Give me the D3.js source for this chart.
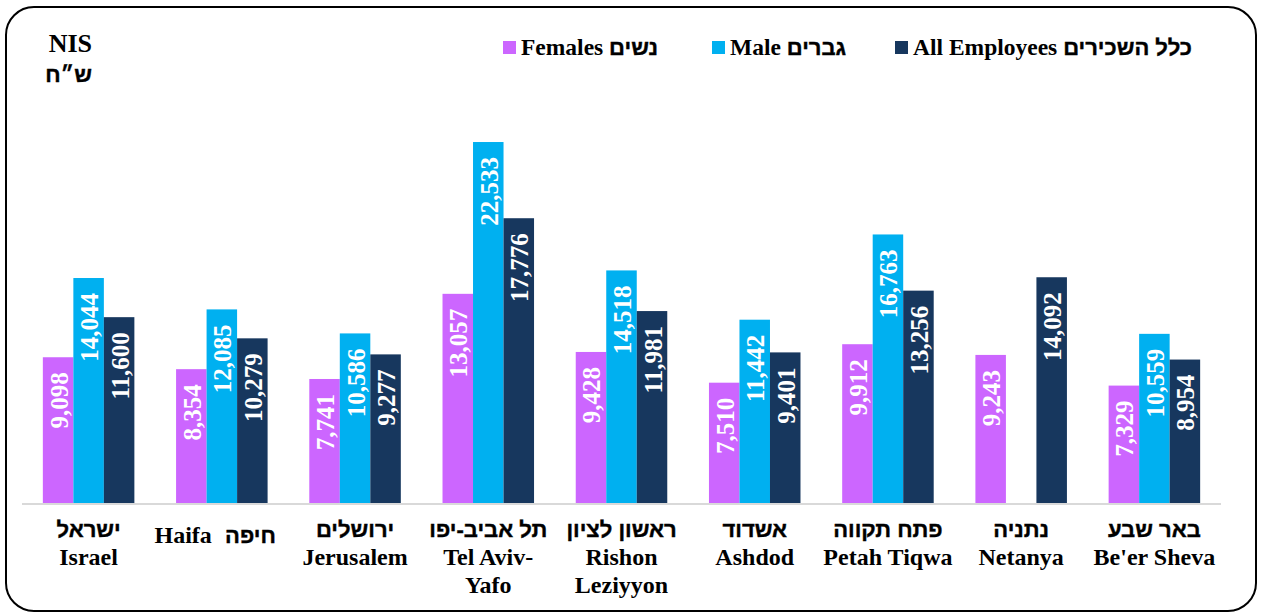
<!DOCTYPE html>
<html>
<head>
<meta charset="utf-8">
<script src="https://cdn.jsdelivr.net/npm/d3@7"></script>
<style>
  body { margin: 0; background: #fff; }
  svg { display: block; }
</style>
</head>
<body>
<div id="chart"></div>
<script>
// Data
var cities_en = [["Israel"], ["Haifa"], ["Jerusalem"], ["Tel Aviv-", "Yafo"], ["Rishon", "Leziyyon"], ["Ashdod"], ["Petah Tiqwa"], ["Netanya"], ["Be'er Sheva"]];
var cities_he = ["ישראל", "חיפה", "ירושלים", "תל אביב-יפו", "ראשון לציון", "אשדוד", "פתח תקווה", "נתניה", "באר שבע"];
var females = [9098, 8354, 7741, 13057, 9428, 7510, 9912, 9243, 7329];
var males = [14044, 12085, 10586, 22533, 14518, 11442, 16763, null, 10559];
var allEmployees = [11600, 10279, 9277, 17776, 11981, 9401, 13256, 14092, 8954];
var seriesKeys = ["f", "m", "a"];
var seriesNames = [["Females", "נשים"], ["Male", "גברים"], ["All Employees", "כלל השכירים"]];
var colors = ["#CC66FF", "#00B0F0", "#17375E"];

var width = 1261, height = 614;
var serif = "'Liberation Serif', 'Times New Roman', serif";
var sans = "'Liberation Sans', Arial, sans-serif";

var svg = d3.select("#chart")
    .append("svg")
        .attr("width", width)
        .attr("height", height);

// Frame
svg.append("rect")
    .attr("x", 6).attr("y", 7)
    .attr("width", 1250).attr("height", 604)
    .attr("rx", 28).attr("ry", 28)
    .attr("fill", "#fff")
    .attr("stroke", "#000")
    .attr("stroke-width", 2);

// Scales
var x0 = d3.scaleBand()
    .domain(d3.range(cities_he.length))
    .range([22, 1221])
    .paddingInner(0.313)
    .paddingOuter(0.1565);
var x1 = d3.scaleBand()
    .domain(seriesKeys)
    .range([0, x0.bandwidth()]);
var y = d3.scaleLinear()
    .domain([0, 25000])
    .range([503, 102.5]);

var rows = cities_he.map(function(d, i) {
    return {i: i, vals: [
        {k: "f", v: females[i], c: colors[0]},
        {k: "m", v: males[i], c: colors[1]},
        {k: "a", v: allEmployees[i], c: colors[2]}
    ].filter(e => e.v != null)};
});

// Bars
var groups = svg.append("g")
    .selectAll("g")
    .data(rows)
    .join("g")
        .attr("transform", d => "translate(" + x0(d.i) + ",0)");

groups.selectAll("rect")
    .data(d => d.vals)
    .join("rect")
        .attr("x", d => x1(d.k))
        .attr("y", d => y(d.v))
        .attr("width", x1.bandwidth())
        .attr("height", d => y(0) - y(d.v))
        .attr("fill", d => d.c);

// Value labels (vertical, inside top)
groups.selectAll("text")
    .data(d => d.vals)
    .join("text")
        .attr("transform", d => "translate(" + (x1(d.k) + x1.bandwidth() / 2 + 1) + "," + (y(d.v) + 15) + ") rotate(-90)")
        .attr("text-anchor", "end")
        .attr("dominant-baseline", "central")
        .attr("fill", "#fff")
        .attr("font-family", serif)
        .attr("font-weight", "bold")
        .attr("font-size", "25px")
        .text(d => d3.format(",")(d.v));

// Axis baseline
svg.append("line")
    .attr("x1", 22).attr("x2", 1221)
    .attr("y1", y(0) + 1).attr("y2", y(0) + 1)
    .attr("stroke", "#D9D9D9")
    .attr("stroke-width", 2);

// Hebrew text helper (heavier look)
function heb(sel) {
    return sel.attr("font-family", sans).attr("font-weight", "bold")
        .attr("font-size", "22px")
        .attr("stroke", "#000").attr("stroke-width", 0.4);
}

// Category labels
var labels = svg.append("g");
cities_he.forEach(function(he, i) {
    var cx = x0(i) + x0.bandwidth() / 2;
    if (i == 1) {
        // Haifa sits on one line
        labels.append("text")
            .attr("x", cx - 10).attr("y", 543)
            .attr("text-anchor", "end")
            .attr("font-family", serif).attr("font-weight", "bold").attr("font-size", "24px")
            .text(cities_en[i][0]);
        heb(labels.append("text"))
            .attr("x", cx + 54).attr("y", 543)
            .attr("text-anchor", "end")
            .text(he);
        return;
    }
    heb(labels.append("text"))
        .attr("x", cx).attr("y", 537)
        .attr("text-anchor", "middle")
        .text(he);
    cities_en[i].forEach(function(line, j) {
        labels.append("text")
            .attr("x", cx).attr("y", 565 + j * 28)
            .attr("text-anchor", "middle")
            .attr("font-family", serif).attr("font-weight", "bold").attr("font-size", "24px")
            .text(line);
    });
});

// Unit label
svg.append("text")
    .attr("x", 92).attr("y", 52)
    .attr("text-anchor", "end")
    .attr("font-family", serif).attr("font-weight", "bold").attr("font-size", "26px")
    .text("NIS");
heb(svg.append("text"))
    .attr("x", 92).attr("y", 82)
    .attr("text-anchor", "end")
    .text("ש״ח");

// Legend
var legendX = [503, 712, 895];
var legend = svg.append("g");
seriesNames.forEach(function(n, i) {
    legend.append("rect")
        .attr("x", legendX[i]).attr("y", 41)
        .attr("width", 13).attr("height", 13)
        .attr("fill", colors[i]);
    var t = legend.append("text")
        .attr("x", legendX[i] + 18).attr("y", 55)
        .attr("font-weight", "bold");
    t.append("tspan")
        .attr("font-family", serif).attr("font-size", "23.5px")
        .text(n[0] + " ");
    heb(t.append("tspan"))
        .text(n[1]);
});
</script>
</body>
</html>
